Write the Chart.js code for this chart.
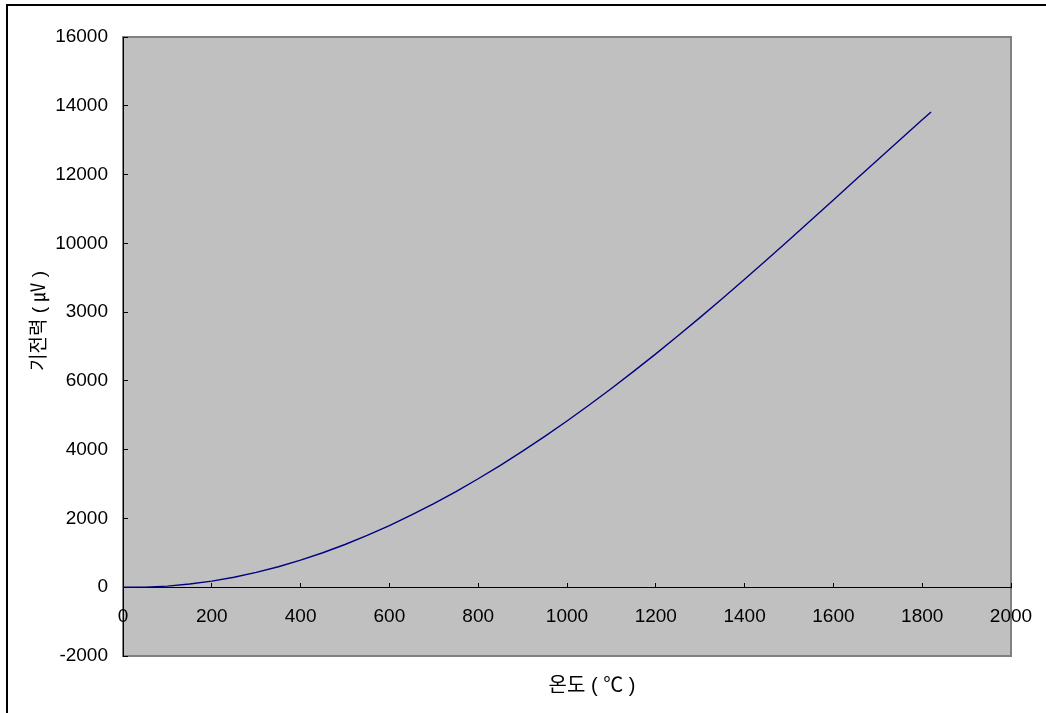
<!DOCTYPE html>
<html>
<head>
<meta charset="utf-8">
<script src="https://cdn.jsdelivr.net/npm/chart.js@4/dist/chart.umd.min.js"></script>
<style>
  html, body { margin: 0; padding: 0; background: #fff; }
  #wrap { width: 1046px; height: 713px; position: relative; }
</style>
</head>
<body>
<div id="wrap"><canvas id="c" width="1046" height="713"></canvas></div>
<script>
// Thermocouple EMF vs. temperature
const temperatures = [0, 50, 100, 150, 200, 250, 300, 350, 400, 450, 500, 550, 600, 650, 700, 750, 800, 850, 900, 950,
  1000, 1050, 1100, 1150, 1200, 1250, 1300, 1350, 1400, 1450, 1500, 1550, 1600, 1650, 1700, 1750, 1800, 1820];
const emfValues = [0, 2, 33, 92, 178, 291, 431, 596, 787, 1002, 1242, 1505, 1792, 2101, 2431, 2782, 3154, 3546, 3957, 4386,
  4834, 5299, 5780, 6276, 6786, 7311, 7848, 8397, 8956, 9524, 10099, 10679, 11263, 11848, 12433, 13014, 13591, 13820];
const xTickLabels = ['0', '200', '400', '600', '800', '1000', '1200', '1400', '1600', '1800', '2000'];
const yTickLabels = ['-2000', '0', '2000', '4000', '6000', '3000', '10000', '12000', '14000', '16000'];
const xTitle = '온도 ( ℃ )';
const yTitle = '기전력 ( ㎶ )';

const FONT = '"Liberation Sans", "Noto Sans CJK KR", sans-serif';

const framePlugin = {
  id: 'frame',
  beforeDraw(chart) {
    const ctx = chart.ctx;
    const a = chart.chartArea;
    ctx.save();
    ctx.fillStyle = '#ffffff';
    ctx.fillRect(0, 0, chart.width, chart.height);
    // outer frame (top and left edges visible)
    ctx.strokeStyle = '#000000';
    ctx.lineWidth = 2;
    ctx.beginPath();
    ctx.moveTo(7, chart.height);
    ctx.lineTo(7, 5);
    ctx.lineTo(chart.width, 5);
    ctx.stroke();
    // plot area
    ctx.fillStyle = '#c0c0c0';
    ctx.fillRect(a.left, a.top, a.right - a.left, a.bottom - a.top);
    ctx.strokeStyle = '#808080';
    ctx.lineWidth = 2;
    ctx.strokeRect(a.left, a.top, a.right - a.left, a.bottom - a.top);
    ctx.restore();
  },
  afterDraw(chart) {
    const ctx = chart.ctx;
    ctx.save();
    ctx.fillStyle = '#000000';
    ctx.textAlign = 'center';
    ctx.textBaseline = 'middle';
    ctx.font = '20px ' + FONT;
    ctx.fillText(xTitle, 592, 686);
    ctx.font = '19px ' + FONT;
    ctx.translate(40, 321);
    ctx.rotate(-Math.PI / 2);
    ctx.fillText(yTitle, 0, 0);
    ctx.restore();
  }
};

new Chart(document.getElementById('c'), {
  type: 'line',
  data: {
    datasets: [{
      data: temperatures.map((t, i) => ({ x: t, y: emfValues[i] })),
      borderColor: '#000080',
      borderWidth: 1.4,
      pointRadius: 0,
      tension: 0,
      fill: false
    }]
  },
  options: {
    responsive: false,
    animation: false,
    devicePixelRatio: 1,
    layout: { padding: { left: 0, top: 37, right: 35, bottom: 57 } },
    plugins: { legend: { display: false }, tooltip: { enabled: false } },
    scales: {
      x: {
        type: 'linear',
        position: { y: 0 },
        min: 0, max: 2000,
        afterFit(scale) {
          scale.height = 0;
          scale.paddingLeft = 0;
          scale.paddingRight = 0;
        },
        grid: { drawOnChartArea: false, drawTicks: true, tickLength: -5, color: '#000000', lineWidth: 1 },
        border: { display: true, color: '#000000', width: 1 },
        ticks: {
          stepSize: 200, color: '#000000', font: { size: 19, family: FONT }, padding: 23, maxRotation: 0,
          callback: (v, i) => xTickLabels[i]
        }
      },
      y: {
        type: 'linear',
        position: 'left',
        min: -2000, max: 16000,
        afterFit(scale) {
          scale.width = 123;
          scale.paddingTop = 0;
          scale.paddingBottom = 0;
        },
        grid: { drawOnChartArea: false, drawTicks: true, tickLength: -5, color: '#000000', lineWidth: 1 },
        border: { display: true, color: '#000000', width: 1 },
        ticks: {
          stepSize: 2000, color: '#000000', font: { size: 19, family: FONT }, padding: 20,
          callback: (v, i) => yTickLabels[i]
        }
      }
    }
  },
  plugins: [framePlugin]
});
</script>
</body>
</html>
